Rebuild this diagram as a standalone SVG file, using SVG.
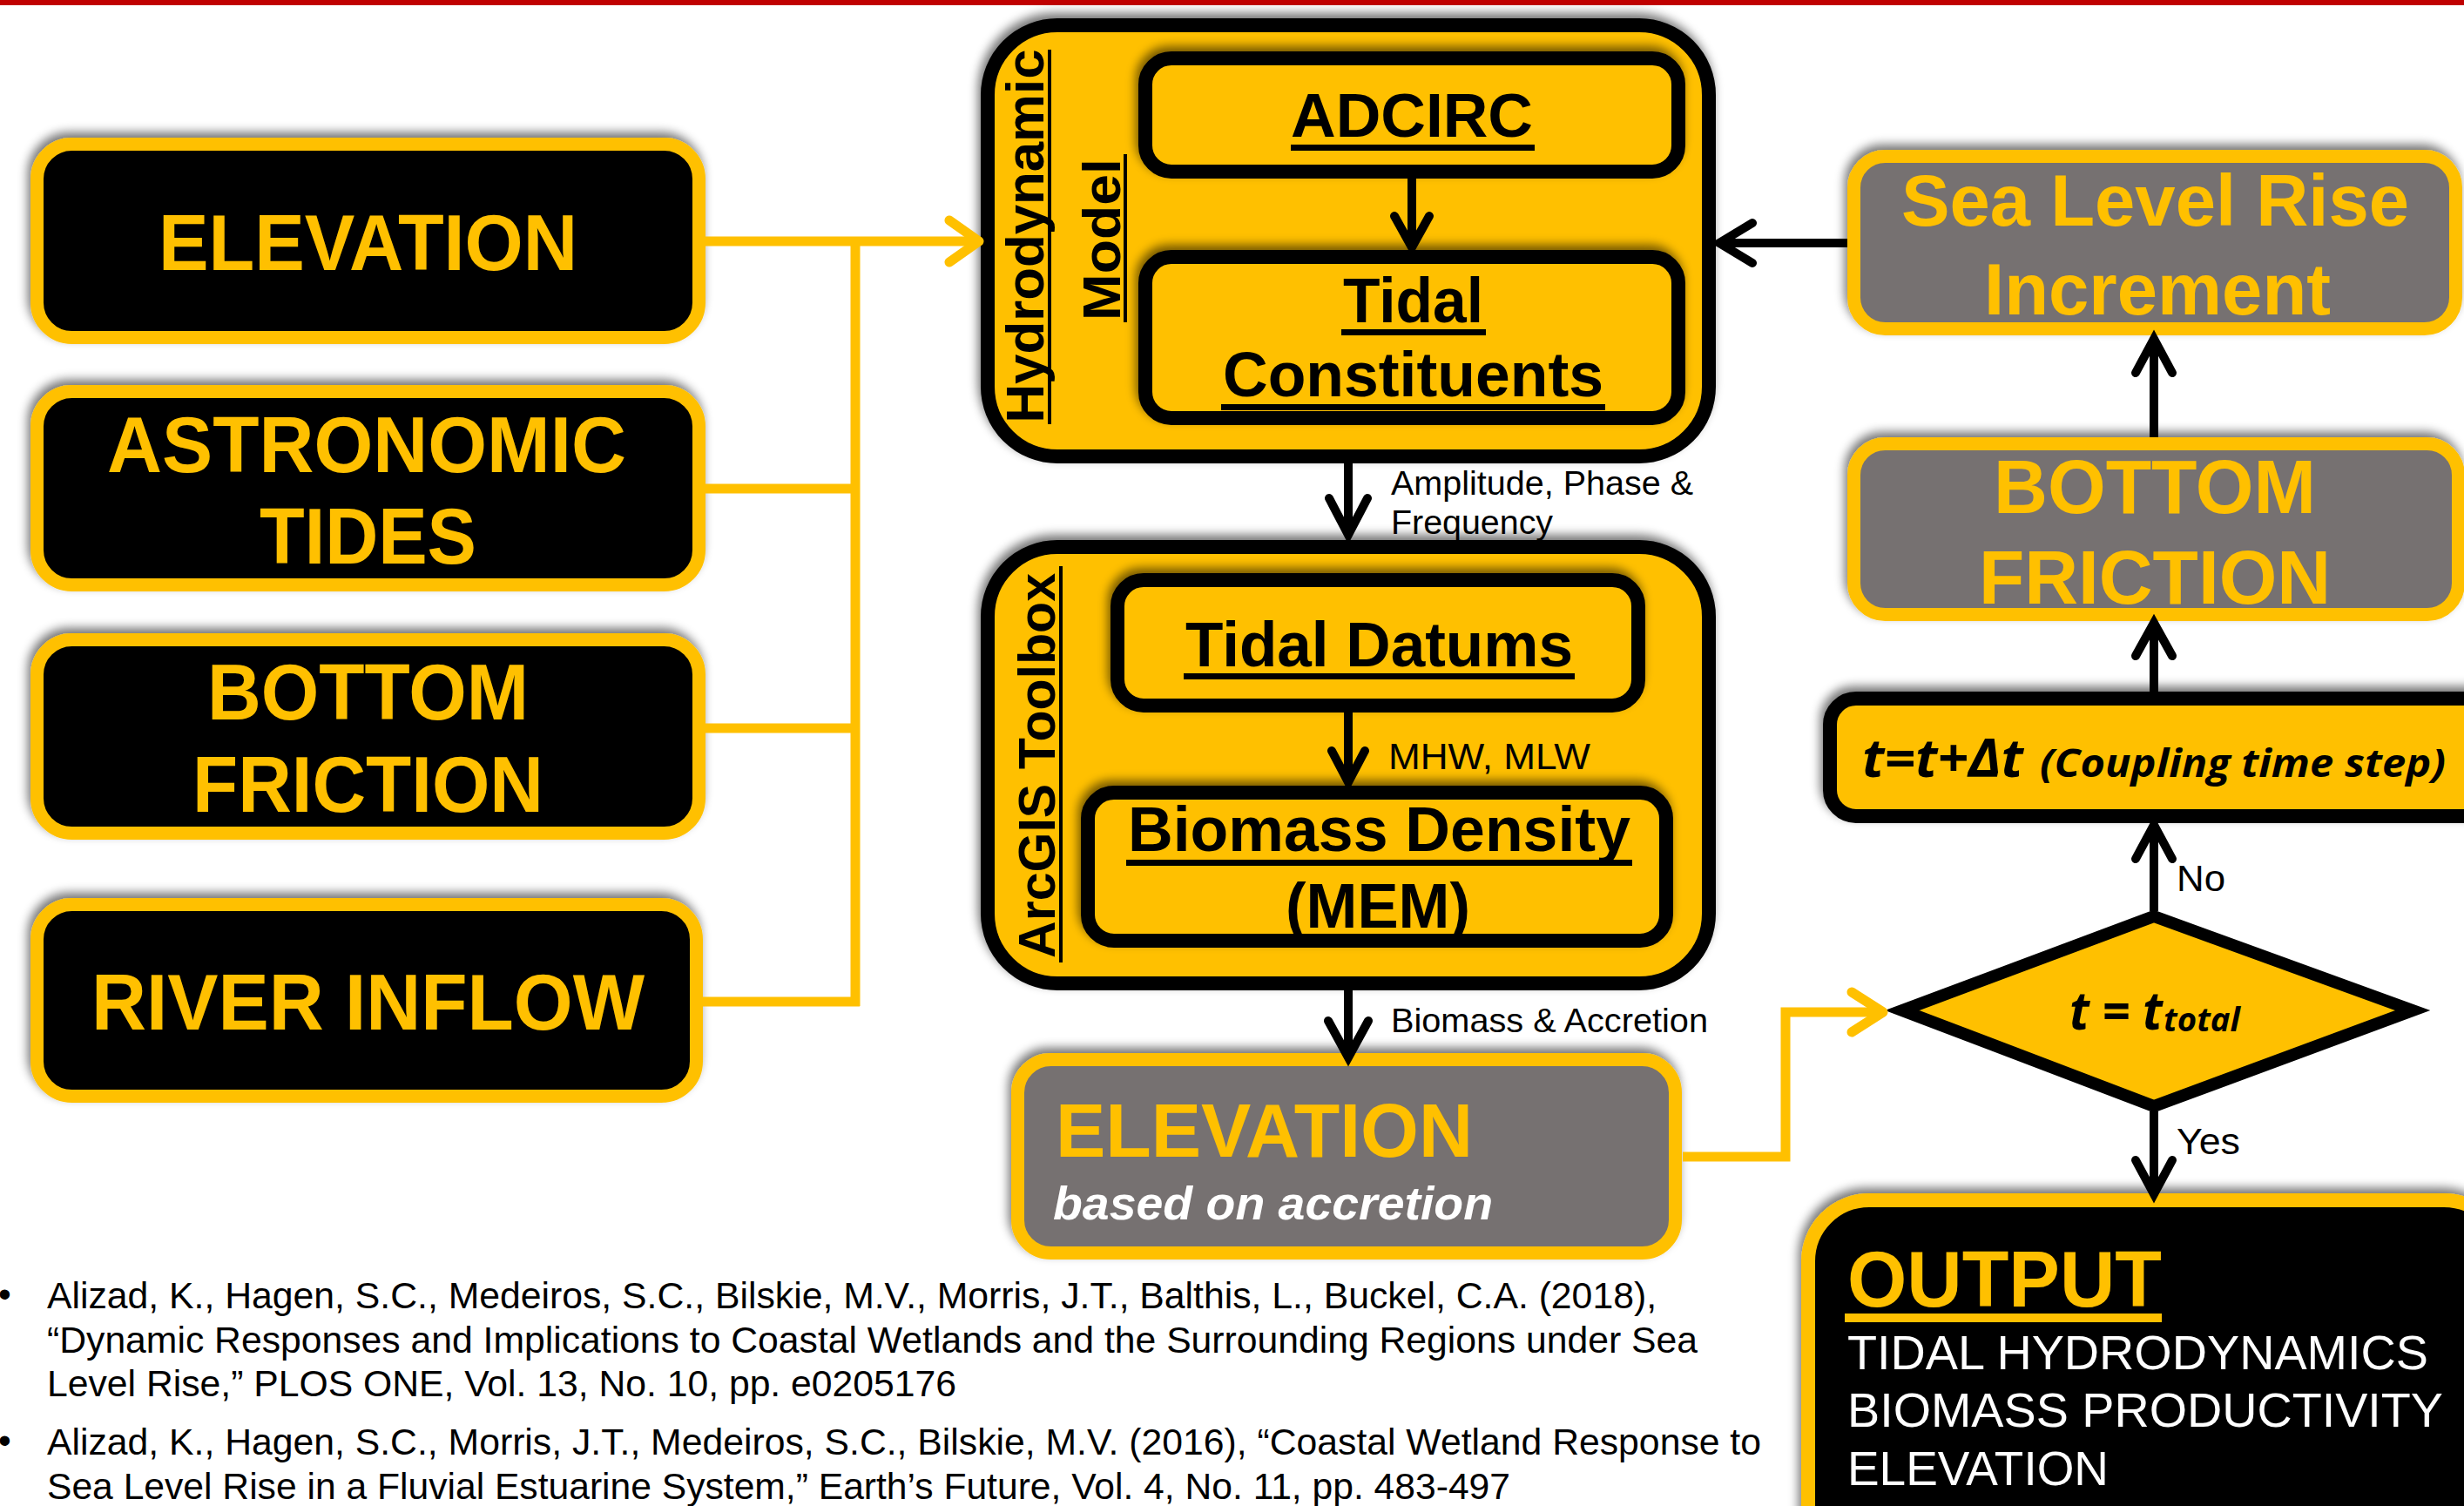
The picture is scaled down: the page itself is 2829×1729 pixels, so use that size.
<svg xmlns="http://www.w3.org/2000/svg" width="2829" height="1729" viewBox="0 0 2829 1729">
<style>
.b{font-family:"Liberation Sans",Arial,sans-serif;font-weight:bold}
.r{font-family:"Liberation Sans",Arial,sans-serif}
.c{font-family:"Open Sans","Noto Sans",sans-serif;font-weight:bold;font-style:italic}
.y{fill:#FFC000}
.k{fill:#000}
.w{fill:#fff}
.ybox{fill:#000;stroke:#FFC000;stroke-width:15}
.gbox{fill:#767171;stroke:#FFC000;stroke-width:15}
.kbox{fill:#FFC000;stroke:#000;stroke-width:16}
.yl{fill:none;stroke:#FFC000;stroke-width:11;stroke-linecap:butt}
.yh{fill:none;stroke:#FFC000;stroke-width:11;stroke-linecap:round;stroke-linejoin:round}
.kl{fill:none;stroke:#000;stroke-width:10}
.kh{fill:none;stroke:#000;stroke-width:10;stroke-linecap:round;stroke-linejoin:miter}
</style>
<defs>
<filter id="sh" x="-10%" y="-20%" width="120%" height="140%">
<feGaussianBlur in="SourceAlpha" stdDeviation="6"/>
<feOffset dx="-3" dy="-6" result="o"/>
<feComponentTransfer><feFuncA type="linear" slope="0.55"/></feComponentTransfer>
<feMerge><feMergeNode/><feMergeNode in="SourceGraphic"/></feMerge>
</filter>
</defs>
<rect x="0" y="0" width="2829" height="6" fill="#C00000"/>

<g id="in-elevation"><rect class="ybox" x="42.5" y="165.5" width="760" height="222" rx="40" filter="url(#sh)"/><text class="b y" x="182" y="310" font-size="90" textLength="481" lengthAdjust="spacingAndGlyphs">ELEVATION</text></g>
<g id="in-tides"><rect class="ybox" x="42.5" y="449.5" width="760" height="222" rx="40" filter="url(#sh)"/><text class="b y" x="123" y="542" font-size="90" textLength="596" lengthAdjust="spacingAndGlyphs">ASTRONOMIC</text><text class="b y" x="298" y="647" font-size="90" textLength="249" lengthAdjust="spacingAndGlyphs">TIDES</text></g>
<g id="in-friction"><rect class="ybox" x="42.5" y="734.5" width="760" height="222" rx="40" filter="url(#sh)"/><text class="b y" x="238" y="826" font-size="90" textLength="369" lengthAdjust="spacingAndGlyphs">BOTTOM</text><text class="b y" x="221" y="932" font-size="90" textLength="403" lengthAdjust="spacingAndGlyphs">FRICTION</text></g>
<g id="in-river"><rect class="ybox" x="42.5" y="1038.5" width="757" height="220" rx="40" filter="url(#sh)"/><text class="b y" x="105" y="1182" font-size="90" textLength="635" lengthAdjust="spacingAndGlyphs">RIVER INFLOW</text></g>

<g id="hydro"><rect class="kbox" x="1134" y="29" width="828" height="495" rx="80" filter="url(#sh)"/>
<text class="b k" transform="translate(1198,271) rotate(-90)" text-anchor="middle" font-size="62" textLength="429" lengthAdjust="spacingAndGlyphs">Hydrodynamic</text>
<rect x="1203" y="57" width="4" height="430" fill="#000"/>
<text class="b k" transform="translate(1286,275) rotate(-90)" text-anchor="middle" font-size="62" textLength="186" lengthAdjust="spacingAndGlyphs">Model</text>
<rect x="1290" y="177" width="4" height="193" fill="#000"/></g>
<g id="adcirc"><rect class="kbox" x="1315" y="67" width="612" height="130" rx="30" filter="url(#sh)"/><text class="b k" x="1482" y="157" font-size="70" textLength="278" lengthAdjust="spacingAndGlyphs">ADCIRC</text><rect x="1482" y="166" width="280" height="7"/></g>
<g id="constituents"><rect class="kbox" x="1315" y="295" width="612" height="185" rx="30" filter="url(#sh)"/><text class="b k" x="1542" y="370" font-size="72" textLength="161" lengthAdjust="spacingAndGlyphs">Tidal</text><rect x="1540" y="378" width="166" height="7"/><text class="b k" x="1404" y="455" font-size="72" textLength="437" lengthAdjust="spacingAndGlyphs">Constituents</text><rect x="1402" y="464" width="441" height="7"/></g>

<g id="arcgis"><rect class="kbox" x="1134" y="628" width="828" height="501" rx="80" filter="url(#sh)"/>
<text class="b k" transform="translate(1211,879) rotate(-90)" text-anchor="middle" font-size="59" textLength="442" lengthAdjust="spacingAndGlyphs">ArcGIS Toolbox</text>
<rect x="1216" y="650" width="4" height="455" fill="#000"/></g>
<g id="datums"><rect class="kbox" x="1283" y="666" width="598" height="144" rx="30" filter="url(#sh)"/><text class="b k" x="1361" y="765" font-size="72" textLength="445" lengthAdjust="spacingAndGlyphs">Tidal Datums</text><rect x="1359" y="773" width="449" height="7"/></g>
<g id="biomass"><rect class="kbox" x="1249" y="910" width="664" height="170" rx="30" filter="url(#sh)"/><text class="b k" x="1295" y="977" font-size="72" textLength="577" lengthAdjust="spacingAndGlyphs">Biomass Density</text><rect x="1293" y="987" width="581" height="7"/><text class="b k" x="1476" y="1065" font-size="72" textLength="212" lengthAdjust="spacingAndGlyphs">(MEM)</text></g>

<g id="elev-accretion"><rect class="gbox" x="1168.5" y="1216.5" width="755" height="222" rx="38" stroke-width="17" filter="url(#sh)"/><text class="b y" x="1212" y="1328" font-size="88" textLength="479" lengthAdjust="spacingAndGlyphs">ELEVATION</text><text class="b w" x="1209" y="1400" font-size="54" font-style="italic" textLength="505" lengthAdjust="spacingAndGlyphs">based on accretion</text></g>

<g id="slr"><rect class="gbox" x="2128.5" y="179.5" width="691" height="198" rx="36" filter="url(#sh)"/><text class="b y" x="2183" y="259" font-size="84" textLength="583" lengthAdjust="spacingAndGlyphs">Sea Level Rise</text><text class="b y" x="2278" y="361" font-size="84" textLength="398" lengthAdjust="spacingAndGlyphs">Increment</text></g>
<g id="friction-r"><rect class="gbox" x="2128.5" y="509.5" width="694" height="196" rx="36" filter="url(#sh)"/><text class="b y" x="2289" y="589" font-size="88" textLength="370" lengthAdjust="spacingAndGlyphs">BOTTOM</text><text class="b y" x="2272" y="693" font-size="88" textLength="404" lengthAdjust="spacingAndGlyphs">FRICTION</text></g>
<g id="coupling"><rect class="kbox" x="2101" y="802" width="780" height="135" rx="30" stroke-width="15" filter="url(#sh)"/><text class="c k" x="2138" y="892" font-size="60" textLength="185" lengthAdjust="spacingAndGlyphs">t=t+Δt</text><text class="c k" x="2342" y="892" font-size="44" textLength="466" lengthAdjust="spacingAndGlyphs">(Coupling time step)</text></g>
<g id="decision"><path d="M2473,1052 L2770,1160 L2473,1270 L2184,1160 Z" fill="#FFC000" stroke="#000" stroke-width="14" stroke-linejoin="miter" stroke-miterlimit="10"/><text class="c k" x="2376" y="1182" font-size="60" textLength="107" lengthAdjust="spacingAndGlyphs">t = t</text><text class="c k" x="2484" y="1184" font-size="38" textLength="88" lengthAdjust="spacingAndGlyphs">total</text></g>
<g id="output"><rect x="2076" y="1378" width="800" height="500" rx="70" fill="#000" stroke="#FFC000" stroke-width="16" filter="url(#sh)"/><text class="b y" x="2121" y="1500" font-size="90" textLength="361" lengthAdjust="spacingAndGlyphs">OUTPUT</text><rect x="2118" y="1508" width="364" height="10" fill="#FFC000"/><text class="r w" x="2121" y="1572" font-size="55" textLength="667" lengthAdjust="spacingAndGlyphs">TIDAL HYDRODYNAMICS</text><text class="r w" x="2121" y="1638" font-size="55" textLength="684" lengthAdjust="spacingAndGlyphs">BIOMASS PRODUCTIVITY</text><text class="r w" x="2121" y="1705" font-size="55" textLength="300" lengthAdjust="spacingAndGlyphs">ELEVATION</text></g>

<g id="connectors">
<path class="yl" d="M810,277 H1120 M982,272 V1155 M810,561 H987 M810,836 H987 M807,1150 H987"/>
<path class="yh" d="M1090,253 L1124,277 L1090,301"/>
<path class="yl" d="M1932,1328 H2050 V1162 H2158"/>
<path class="yh" d="M2126,1139 L2162,1162 L2126,1185"/>
<path class="kl" d="M1621,205 V282" stroke-width="9"/>
<path class="kh" d="M1601,248 L1621,284 L1641,248" stroke-width="9"/>
<path class="kl" d="M1548,532 V612"/>
<path class="kh" d="M1526,572 L1548,614 L1570,572"/>
<path class="kl" d="M1548,818 V896" stroke-width="9"/>
<path class="kh" d="M1529,862 L1548,898 L1567,862" stroke-width="9"/>
<path class="kl" d="M1548,1137 V1212"/>
<path class="kh" d="M1525,1172 L1548,1214 L1571,1172"/>
<path class="kl" d="M2121,279 H1976"/>
<path class="kh" d="M2012,256 L1974,279 L2012,302"/>
<path class="kl" d="M2473,502 V392"/>
<path class="kh" d="M2452,428 L2473,389 L2494,428"/>
<path class="kl" d="M2473,794 V718"/>
<path class="kh" d="M2452,753 L2473,715 L2494,753"/>
<path class="kl" d="M2473,1046 V950"/>
<path class="kh" d="M2452,986 L2473,947 L2494,986"/>
<path class="kl" d="M2473,1276 V1368"/>
<path class="kh" d="M2452,1332 L2473,1371 L2494,1332"/>
</g>
<g id="labels">
<text class="r k" x="1597" y="568" font-size="39" textLength="347" lengthAdjust="spacingAndGlyphs">Amplitude, Phase &amp;</text>
<text class="r k" x="1597" y="613" font-size="39" textLength="186" lengthAdjust="spacingAndGlyphs">Frequency</text>
<text class="r k" x="1594" y="883" font-size="42" textLength="232" lengthAdjust="spacingAndGlyphs">MHW, MLW</text>
<text class="r k" x="1597" y="1185" font-size="39" textLength="364" lengthAdjust="spacingAndGlyphs">Biomass &amp; Accretion</text>
<text class="r k" x="2499" y="1023" font-size="43" textLength="56" lengthAdjust="spacingAndGlyphs">No</text>
<text class="r k" x="2499" y="1325" font-size="43" textLength="73" lengthAdjust="spacingAndGlyphs">Yes</text>
</g>
<g id="references">
<text class="r k" x="-2" y="1500" font-size="42">•</text>
<text class="r k" x="-2" y="1668" font-size="42">•</text>
<text class="r k" x="54" y="1502" font-size="42" textLength="1848" lengthAdjust="spacingAndGlyphs">Alizad, K., Hagen, S.C., Medeiros, S.C., Bilskie, M.V., Morris, J.T., Balthis, L., Buckel, C.A. (2018),</text>
<text class="r k" x="54" y="1553" font-size="42" textLength="1895" lengthAdjust="spacingAndGlyphs">“Dynamic Responses and Implications to Coastal Wetlands and the Surrounding Regions under Sea</text>
<text class="r k" x="54" y="1603" font-size="42" textLength="1044" lengthAdjust="spacingAndGlyphs">Level Rise,” PLOS ONE, Vol. 13, No. 10, pp. e0205176</text>
<text class="r k" x="54" y="1670" font-size="42" textLength="1968" lengthAdjust="spacingAndGlyphs">Alizad, K., Hagen, S.C., Morris, J.T., Medeiros, S.C., Bilskie, M.V. (2016), “Coastal Wetland Response to</text>
<text class="r k" x="54" y="1721" font-size="42" textLength="1680" lengthAdjust="spacingAndGlyphs">Sea Level Rise in a Fluvial Estuarine System,” Earth’s Future, Vol. 4, No. 11, pp. 483-497</text>
</g>
</svg>
